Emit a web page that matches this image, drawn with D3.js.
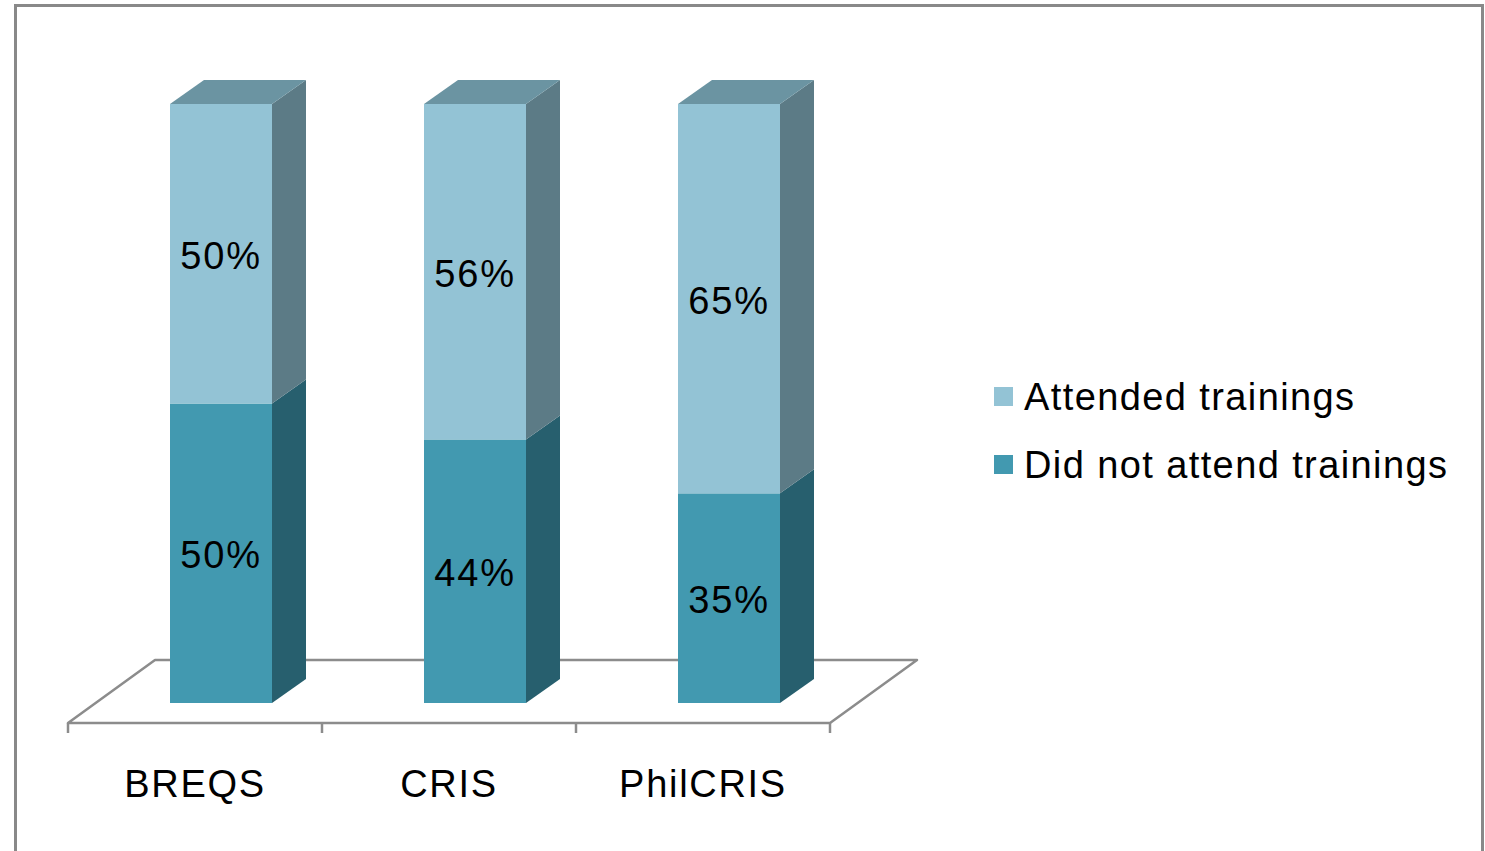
<!DOCTYPE html>
<html>
<head>
<meta charset="utf-8">
<script src="https://cdn.jsdelivr.net/npm/d3@7"></script>
<style>
  body { margin: 0; background: #fff; }
  svg text { font-family: "Liberation Sans", Arial, sans-serif; fill: #000; }
</style>
</head>
<body>
<svg id="chart" width="1485" height="851"></svg>
<script>
// data
var categories = ["BREQS", "CRIS", "PhilCRIS"];
var attended = [50, 56, 65];
var notAttended = [50, 44, 35];
var seriesNames = ["Attended trainings", "Did not attend trainings"];

var svg = d3.select("#chart");

// outer frame
svg.append("rect")
  .attr("x", 15.5).attr("y", 5.5)
  .attr("width", 1467).attr("height", 860)
  .attr("fill", "#fff")
  .attr("stroke", "#898989").attr("stroke-width", 3);

var x = d3.scaleBand().domain(categories).range([68, 830]);
var y = d3.scaleLinear().domain([0, 100]).range([703, 104]);

var barW = 102, dx = 34, dy = -24;   // bar depth
var fdx = 87, fdy = -63;             // floor depth

// floor
var floorY = 723;
svg.append("path")
  .attr("d", "M" + x.range()[0] + "," + floorY +
    " L" + (x.range()[0] + fdx) + "," + (floorY + fdy) +
    " L" + (x.range()[1] + fdx) + "," + (floorY + fdy) +
    " L" + x.range()[1] + "," + floorY + " Z")
  .attr("fill", "none")
  .attr("stroke", "#8c8c8c").attr("stroke-width", 2.5)
  .attr("stroke-linejoin", "round");

// tick marks
var tickXs = categories.map(function (c) { return x(c); }).concat([x.range()[1]]);
svg.selectAll(".tick")
  .data(tickXs).enter().append("line")
  .attr("x1", function (d) { return d; }).attr("x2", function (d) { return d; })
  .attr("y1", floorY).attr("y2", floorY + 10)
  .attr("stroke", "#8c8c8c").attr("stroke-width", 2.5);

var colors = {
  light: { front: "#93c3d5", side: "#5c7b86", top: "#6b94a2" },
  dark: { front: "#4299b0", side: "#275f6e", top: "#3a7f92" }
};

function drawSegment(g, x0, v0, v1, c, withTop) {
  var yb = y(v0), yt = y(v1);
  g.append("rect")
    .attr("x", x0).attr("y", yt)
    .attr("width", barW).attr("height", yb - yt)
    .attr("fill", c.front);
  g.append("path")
    .attr("d", "M" + (x0 + barW) + "," + yb +
      " L" + (x0 + barW + dx) + "," + (yb + dy) +
      " L" + (x0 + barW + dx) + "," + (yt + dy) +
      " L" + (x0 + barW) + "," + yt + " Z")
    .attr("fill", c.side);
  if (withTop) {
    g.append("path")
      .attr("d", "M" + x0 + "," + yt +
        " L" + (x0 + dx) + "," + (yt + dy) +
        " L" + (x0 + barW + dx) + "," + (yt + dy) +
        " L" + (x0 + barW) + "," + yt + " Z")
      .attr("fill", c.top);
  }
  g.append("text")
    .attr("x", x0 + barW / 2)
    .attr("y", (yb + yt) / 2 + 15)
    .attr("text-anchor", "middle")
    .attr("font-size", 38)
    .attr("letter-spacing", 1.8)
    .text(Math.round(v1 - v0) + "%");
}

categories.forEach(function (c, i) {
  var g = svg.append("g");
  var x0 = x(c) + (x.bandwidth() - barW) / 2 + 26;
  drawSegment(g, x0, 0, notAttended[i], colors.dark, false);
  drawSegment(g, x0, notAttended[i], notAttended[i] + attended[i], colors.light, true);
});

// category labels
svg.selectAll(".cat")
  .data(categories).enter().append("text")
  .attr("x", function (d) { return x(d) + x.bandwidth() / 2; })
  .attr("y", 797)
  .attr("text-anchor", "middle")
  .attr("font-size", 38)
  .attr("letter-spacing", 1.7)
  .text(function (d) { return d; });

// legend
var legendColors = [colors.light.front, colors.dark.front];
var leg = svg.selectAll(".leg")
  .data(seriesNames).enter().append("g")
  .attr("transform", function (d, i) { return "translate(994," + (387 + i * 68) + ")"; });
leg.append("rect")
  .attr("width", 19).attr("height", 19)
  .attr("fill", function (d, i) { return legendColors[i]; });
leg.append("text")
  .attr("x", 30).attr("y", 23)
  .attr("font-size", 38)
  .attr("letter-spacing", 1.4)
  .text(function (d) { return d; });
</script>
</body>
</html>
